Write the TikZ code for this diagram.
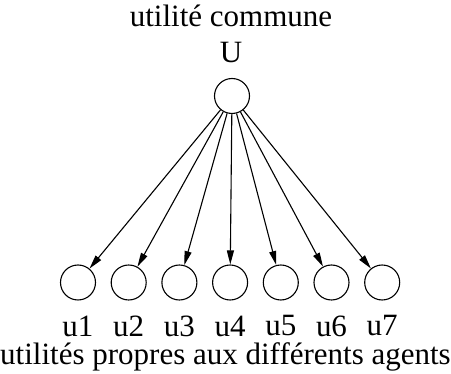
\documentclass[tikz,border=0pt]{standalone}
\usepackage{fontspec}
\setmainfont{Liberation Serif}
\usepackage{tikz}
\usetikzlibrary{arrows.meta, positioning}

\begin{document}
\begin{tikzpicture}[
  x=1pt, y=-1pt,
  util/.style={circle, draw, line width=1.1pt, minimum size=35pt, inner sep=0pt},
  lbl/.style={font=\fontsize{31}{36}\selectfont, inner sep=0pt},
  arr/.style={-{Triangle[length=14pt,width=7pt]}, line width=1.1pt},
]
\useasboundingbox (0,0) rectangle (451,374);
\node[lbl] (titre) at (231,16) {utilité commune};
\node[lbl] (Ulab) at (231,53) {U};
\node[util] (U) at (232,96) {};
\foreach \i in {1,...,7} {
  \node[util] (u\i) at ({78+50.7*(\i-1)},282.5) {};
  \node[lbl] (l\i) at ({78+50.7*(\i-1)},326) {u\i};
  \draw[arr] (U) -- (u\i);
}
\node[lbl] (bas) at (225.5,357) {utilités propres aux différents agents};
\end{tikzpicture}
\end{document}
